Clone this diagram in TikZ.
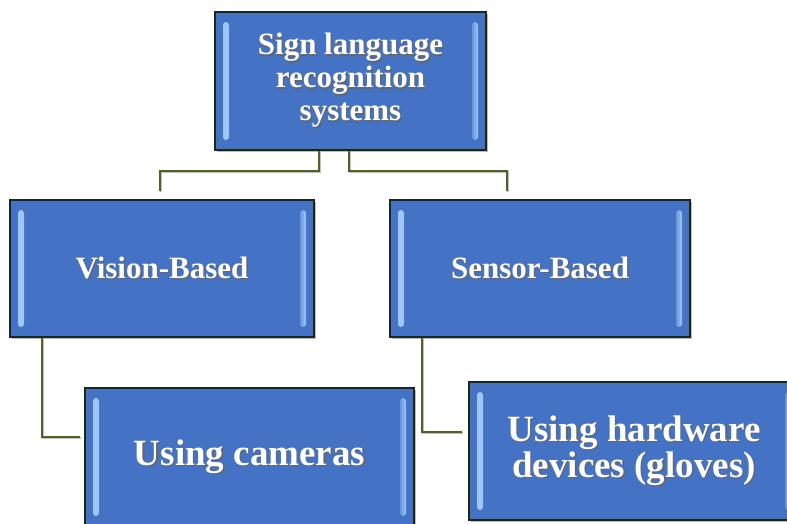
\documentclass[tikz,border=0pt]{standalone}
\usepackage{fontspec}
\setmainfont{Liberation Serif}
\usepackage{tikz}
\usetikzlibrary{shadows}
\usetikzlibrary{positioning}
\definecolor{boxblue}{RGB}{68,114,196}
\definecolor{boxedge}{RGB}{28,40,22}
\definecolor{stripblue}{RGB}{160,200,250}
\definecolor{linkgreen}{RGB}{79,98,40}
\newcommand{\mTopFont}{\bfseries\fontsize{31}{33}\selectfont}
\newcommand{\mLowFont}{\bfseries\fontsize{37}{31}\selectfont}
\newcommand{\mShadowed}[1]{\leavevmode\rlap{\kern1.3pt\raisebox{-1.3pt}{\color{black!60}#1}}#1}

\begin{document}
\begin{tikzpicture}[x=1pt,y=1pt,
    sysbox/.style={draw=boxedge,line width=2.5pt,fill=boxblue,text=white,
      align=center,inner sep=0pt,
      drop shadow={shadow xshift=2pt,shadow yshift=-2pt,fill=black!45,opacity=.6},
      path picture={
        \shade[left color=stripblue,right color=boxblue!60!stripblue,rounded corners=3pt]
          ([xshift=8pt,yshift=-10pt]path picture bounding box.north west)
          rectangle ([xshift=14pt,yshift=10pt]path picture bounding box.south west);
        \shade[right color=stripblue,left color=boxblue!60!stripblue,rounded corners=3pt]
          ([xshift=-8pt,yshift=-10pt]path picture bounding box.north east)
          rectangle ([xshift=-14pt,yshift=10pt]path picture bounding box.south east);
      }},
    link/.style={draw=linkgreen,line width=2pt,
      preaction={draw=black!25,line width=2pt,transform canvas={shift={(1pt,-1pt)}}}}]
    \clip (0,0) rectangle (787,-523);
    \fill[white] (0,0) rectangle (787,-523);
    \node[sysbox,minimum width=271pt,minimum height=138pt,font=\mTopFont] (sys) at (350.5,-81)
      {\mShadowed{Sign language}\\\mShadowed{recognition}\\\mShadowed{systems}};
    \node[sysbox,minimum width=304pt,minimum height=137pt,font=\mTopFont] (vis) at (162,-268.5)
      {\mShadowed{Vision-Based}};
    \node[sysbox,minimum width=300pt,minimum height=137pt,font=\mTopFont] (sen) at (540,-268.5)
      {\mShadowed{Sensor-Based}};
    \node[sysbox,minimum width=329pt,minimum height=138pt,font=\mLowFont] (cam) at (249.5,-457)
      {\mShadowed{Using cameras}};
    \node[sysbox,minimum width=330pt,minimum height=138pt,font=\mLowFont] (hw) at (634,-451)
      {\mShadowed{Using hardware}\\\mShadowed{devices (gloves)}};
    % elbow links
    \draw[link] ([xshift=-32pt]sys.south) -- ++(0,-20) -| ([xshift=-2pt,yshift=8pt]vis.north);
    \draw[link] ([xshift=-1.5pt]sys.south) -- ++(0,-20) -| ([xshift=-33pt,yshift=8pt]sen.north);
    \draw[link] ([xshift=-120pt]vis.south) |- ([xshift=-4pt,yshift=20pt]cam.west);
    \draw[link] ([xshift=-118pt]sen.south) |- ([xshift=-6pt,yshift=19pt]hw.west);
\end{tikzpicture}
\end{document}
